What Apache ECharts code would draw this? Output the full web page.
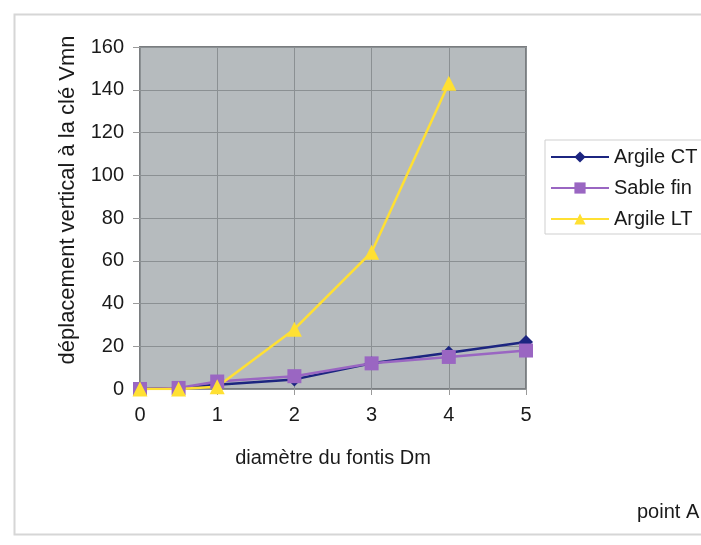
<!DOCTYPE html>
<html>
<head>
<meta charset="utf-8">
<script src="https://cdn.jsdelivr.net/npm/echarts@6/dist/echarts.min.js"></script>
<style>
  html, body { margin: 0; padding: 0; background: #fff; }
  #chart { width: 701px; height: 545px; }
</style>
</head>
<body>
<div id="chart"></div>
<script>
// données
const diametres = [0, 0.5, 1, 2, 3, 4, 5];
const argileCT = [0, 0.5, 2, 4.5, 12, 17, 22];
const sableFin = [0, 0.5, 3.5, 6, 12, 15, 18];
const argileLT = [0, 0, 1, 28, 64, 143, null];
const seriesNames = ['Argile CT', 'Sable fin', 'Argile LT'];

const font = 'Liberation Sans, Arial, sans-serif';

const pairs = (vals) => diametres.map((d, i) => [d, vals[i]]).filter(p => p[1] !== null);

const chart = echarts.init(document.getElementById('chart'));

const option = {
	animation: false,
	textStyle: { fontFamily: font },
	grid: {
		left: 140, right: 175, top: 47, bottom: 156,
		show: true,
		backgroundColor: '#b6bbbe',
		borderColor: '#7a7d80',
		borderWidth: 2,
	},
	legend: {
		orient: 'vertical',
		left: 545,
		top: 140,
		data: seriesNames,
		backgroundColor: '#fff',
		borderColor: '#cfcfcf',
		borderWidth: 1,
		padding: [7, 30, 5, 5],
		itemWidth: 58,
		itemHeight: 14,
		itemGap: 11,
		textStyle: { fontSize: 20, color: '#1a1a1a', fontFamily: font },
	},
	xAxis: {
		type: 'value',
		min: 0, max: 5, interval: 1,
		name: 'diamètre du fontis Dm',
		nameLocation: 'middle',
		nameGap: 59,
		nameTextStyle: { fontSize: 20, color: '#1a1a1a' },
		axisLine: { show: false },
		axisTick: { show: true, length: 6, lineStyle: { color: '#9a9a9a' } },
		axisLabel: { fontSize: 20, color: '#1a1a1a', margin: 16 },
		splitLine: { show: true, lineStyle: { color: '#8b9093', width: 1 } },
	},
	yAxis: {
		type: 'value',
		min: 0, max: 160, interval: 20,
		name: 'déplacement vertical à la clé Vmn',
		nameLocation: 'middle',
		nameGap: 61,
		nameTextStyle: { fontSize: 22, color: '#1a1a1a', padding: [0, 0, 0, 36] },
		axisLine: { show: false },
		axisTick: { show: true, length: 7, lineStyle: { color: '#9a9a9a' } },
		axisLabel: { fontSize: 20, color: '#1a1a1a', margin: 16 },
		splitLine: { show: true, lineStyle: { color: '#8b9093', width: 1 } },
	},
	series: [
		{
			name: 'Argile CT',
			type: 'line',
			data: pairs(argileCT),
			symbol: 'diamond',
			symbolSize: 14,
			color: '#1c2580',
			lineStyle: { width: 2.5, color: '#1c2580' },
			itemStyle: { color: '#1c2580' },
		},
		{
			name: 'Sable fin',
			type: 'line',
			data: pairs(sableFin),
			symbol: 'rect',
			symbolSize: 14,
			color: '#9a66c2',
			lineStyle: { width: 2.5, color: '#9a66c2' },
			itemStyle: { color: '#9a66c2' },
		},
		{
			name: 'Argile LT',
			type: 'line',
			data: pairs(argileLT),
			symbol: 'triangle',
			symbolSize: 15,
			color: '#ffe033',
			lineStyle: { width: 2.5, color: '#ffe033' },
			itemStyle: { color: '#ffe033' },
		},
	],
	graphic: [
		{
			type: 'rect',
			left: 12, top: 12,
			shape: { width: 720, height: 520 },
			style: { fill: 'none', stroke: '#d6d6d6', lineWidth: 2 },
			silent: true,
			z: -10,
		},
		{
			type: 'text',
			left: 637, top: 502,
			style: { text: 'point A', fontSize: 20, fill: '#1a1a1a', font: '20px ' + font },
		},
	],
};

chart.setOption(option);
</script>
</body>
</html>
